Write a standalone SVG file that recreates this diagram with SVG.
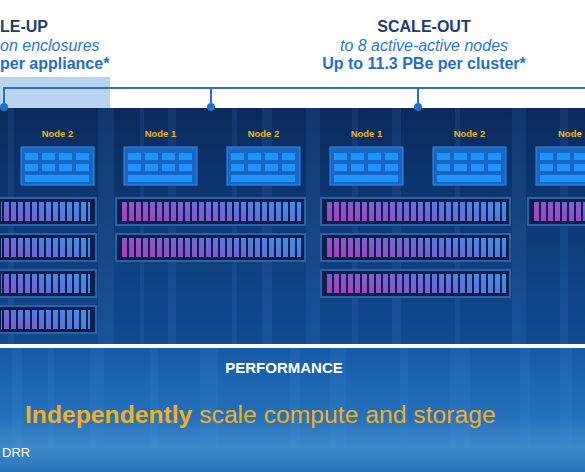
<svg xmlns="http://www.w3.org/2000/svg" width="585" height="472" viewBox="0 0 585 472">
  <style>
    .hd { font-family: "Liberation Sans", Arial, sans-serif; font-size: 16px; text-anchor: middle; }
    .hdl { font-family: "Liberation Sans", Arial, sans-serif; font-size: 16px; }
    .title { font-weight: bold; fill: #1c3e6f; }
    .sub { font-style: italic; fill: #2c79c9; }
    .cap { font-weight: bold; fill: #2170c3; }
    .nl { font-family: "Liberation Sans", Arial, sans-serif; font-size: 9.5px; font-weight: bold; fill: #eab823; text-anchor: middle; }
    .conn { stroke: #2a6fc3; stroke-width: 2; fill: none; }
    .dot { fill: #1f72cf; }
    .frame { fill: #2b62a5; }
    .inner { fill: #0a1f4f; }
    .streak { fill: #4f94dd; }
  </style>
  <defs>
    <linearGradient id="darkBg" x1="0" y1="0" x2="0" y2="1">
      <stop offset="0" stop-color="#0a2a5c"/>
      <stop offset="0.5" stop-color="#0d3a78"/>
      <stop offset="1" stop-color="#114b90"/>
    </linearGradient>
    <linearGradient id="lowBg" x1="0" y1="0" x2="0" y2="1">
      <stop offset="0" stop-color="#165aa6"/>
      <stop offset="0.55" stop-color="#2470bb"/>
      <stop offset="0.8" stop-color="#3f88c9"/>
      <stop offset="1" stop-color="#2a74bb"/>
    </linearGradient>
    <linearGradient id="barsA" x1="0" y1="0" x2="1" y2="0">
      <stop offset="0" stop-color="#a23db2"/>
      <stop offset="0.5" stop-color="#6a62d2"/>
      <stop offset="1" stop-color="#2f8ee2"/>
    </linearGradient>
    <linearGradient id="barsB" x1="0" y1="0" x2="1" y2="0">
      <stop offset="0" stop-color="#6d5fd2"/>
      <stop offset="1" stop-color="#2f8fe2"/>
    </linearGradient>
    <linearGradient id="barsV" x1="0" y1="0" x2="0" y2="1">
      <stop offset="0" stop-color="#5aa0ff" stop-opacity="0.25"/>
      <stop offset="1" stop-color="#c040c0" stop-opacity="0.25"/>
    </linearGradient>
    <pattern id="gaps" patternUnits="userSpaceOnUse" width="7" height="40">
      <rect x="5" y="0" width="2" height="40" fill="#0a1f4f"/>
    </pattern>
    <g id="srv">
      <rect x="0" y="0" width="73" height="38" fill="#1766c4" stroke="#3a8ae0" stroke-width="1"/>
      <g fill="#1f93ff">
        <rect x="4" y="6" width="13" height="7"/>
        <rect x="21" y="6" width="13" height="7"/>
        <rect x="38" y="6" width="13" height="7"/>
        <rect x="55" y="6" width="13" height="7"/>
        <rect x="4" y="17" width="13" height="7"/>
        <rect x="21" y="17" width="13" height="7"/>
        <rect x="38" y="17" width="13" height="7"/>
        <rect x="55" y="17" width="13" height="7"/>
        <rect x="4" y="28" width="64" height="7"/>
      </g>
    </g>
    <g id="encWide">
      <rect class="frame" x="0" y="0" width="191" height="29"/>
      <rect class="inner" x="2" y="2" width="187" height="25"/>
      <rect x="6" y="5" width="180" height="19" fill="url(#barsA)"/>
      <rect x="6" y="5" width="180" height="19" fill="url(#barsV)"/>
      <rect x="6" y="5" width="180" height="19" fill="url(#gaps)"/>
    </g>
    <g id="encLeft">
      <rect class="frame" x="0" y="0" width="100" height="29"/>
      <rect class="inner" x="2" y="2" width="96" height="25"/>
      <rect x="4" y="5" width="89" height="19" fill="url(#barsB)"/>
      <rect x="4" y="5" width="89" height="19" fill="url(#barsV)"/>
      <rect x="4" y="5" width="89" height="19" fill="url(#gaps)"/>
    </g>
  </defs>

  <!-- backgrounds -->
  <rect x="0" y="0" width="585" height="108" fill="#ffffff"/>
  <rect x="0" y="77" width="110" height="31" fill="#b9d4ee"/>
  <rect x="0" y="108" width="585" height="236" fill="url(#darkBg)"/>
  <g opacity="0.12">
    <rect class="streak" x="8" y="108" width="6" height="236"/>
    <rect class="streak" x="98" y="108" width="16" height="236"/>
    <rect class="streak" x="140" y="108" width="4" height="236"/>
    <rect class="streak" x="168" y="108" width="8" height="236"/>
    <rect class="streak" x="232" y="108" width="5" height="236"/>
    <rect class="streak" x="262" y="108" width="10" height="236"/>
    <rect class="streak" x="306" y="108" width="14" height="236"/>
    <rect class="streak" x="352" y="108" width="6" height="236"/>
    <rect class="streak" x="392" y="108" width="9" height="236"/>
    <rect class="streak" x="455" y="108" width="5" height="236"/>
    <rect class="streak" x="512" y="108" width="14" height="236"/>
    <rect class="streak" x="560" y="108" width="8" height="236"/>
  </g>
  <rect x="0" y="344" width="585" height="4" fill="#ffffff"/>
  <rect x="0" y="348" width="585" height="124" fill="url(#lowBg)"/>
  <g opacity="0.13">
    <rect class="streak" x="12" y="348" width="10" height="100"/>
    <rect class="streak" x="48" y="348" width="6" height="100"/>
    <rect class="streak" x="90" y="348" width="14" height="100"/>
    <rect class="streak" x="150" y="348" width="8" height="100"/>
    <rect class="streak" x="200" y="348" width="18" height="100"/>
    <rect class="streak" x="290" y="348" width="10" height="100"/>
    <rect class="streak" x="330" y="348" width="16" height="100"/>
    <rect class="streak" x="400" y="348" width="8" height="100"/>
    <rect class="streak" x="450" y="348" width="20" height="100"/>
    <rect class="streak" x="520" y="348" width="10" height="100"/>
    <rect class="streak" x="560" y="348" width="12" height="100"/>
  </g>

  <!-- header texts -->
  <g id="scale-up-head">
    <text class="hdl title" x="0" y="31.5">LE-UP</text>
    <text class="hdl sub" x="0" y="50.5">on enclosures</text>
    <text class="hdl cap" x="0" y="68.5">per appliance*</text>
  </g>
  <g id="scale-out-head">
    <text class="hd title" x="424" y="31.5">SCALE-OUT</text>
    <text class="hd sub" x="424" y="50.5">to 8 active-active nodes</text>
    <text class="hd cap" x="424" y="68.5">Up to 11.3 PBe per cluster*</text>
  </g>

  <!-- connectors -->
  <g id="connectors">
    <path class="conn" d="M4 106 V88 H585"/>
    <path class="conn" d="M211 88 V106"/>
    <path class="conn" d="M418 88 V106"/>
    <circle class="dot" cx="4" cy="107" r="4"/>
    <circle class="dot" cx="211" cy="107" r="4"/>
    <circle class="dot" cx="418" cy="107" r="4"/>
  </g>

  <!-- nodes -->
  <g id="node-a2">
    <text class="nl" x="57.5" y="137">Node 2</text>
    <use href="#srv" x="21" y="147"/>
  </g>
  <g id="node-b1">
    <text class="nl" x="160.5" y="137">Node 1</text>
    <use href="#srv" x="124" y="147"/>
  </g>
  <g id="node-b2">
    <text class="nl" x="263.5" y="137">Node 2</text>
    <use href="#srv" x="227" y="147"/>
  </g>
  <g id="node-c1">
    <text class="nl" x="366.5" y="137">Node 1</text>
    <use href="#srv" x="330" y="147"/>
  </g>
  <g id="node-c2">
    <text class="nl" x="469.5" y="137">Node 2</text>
    <use href="#srv" x="433" y="147"/>
  </g>
  <g id="node-d1">
    <text class="nl" x="558" y="137" style="text-anchor:start">Node</text>
    <use href="#srv" x="536" y="147"/>
  </g>

  <!-- storage enclosures -->
  <g id="storage-left">
    <use href="#encLeft" x="-3" y="197"/>
    <use href="#encLeft" x="-3" y="233"/>
    <use href="#encLeft" x="-3" y="269"/>
    <use href="#encLeft" x="-3" y="305"/>
  </g>
  <g id="storage-b">
    <use href="#encWide" x="115" y="197"/>
    <use href="#encWide" x="115" y="233"/>
  </g>
  <g id="storage-c">
    <use href="#encWide" x="320" y="197"/>
    <use href="#encWide" x="320" y="233"/>
    <use href="#encWide" x="320" y="269"/>
  </g>
  <g id="storage-d">
    <use href="#encWide" x="527" y="197"/>
  </g>

  <!-- bottom texts -->
  <text x="284" y="373" font-family="Liberation Sans, Arial, sans-serif" font-size="15" font-weight="bold" fill="#ffffff" text-anchor="middle">PERFORMANCE</text>
  <text x="25" y="423" font-family="Liberation Sans, Arial, sans-serif" font-size="24.7" fill="#f2b01e"><tspan font-weight="bold">Independently</tspan> scale compute and storage</text>
  <text x="2" y="457" font-family="Liberation Sans, Arial, sans-serif" font-size="13" fill="#ffffff">DRR</text>
</svg>
